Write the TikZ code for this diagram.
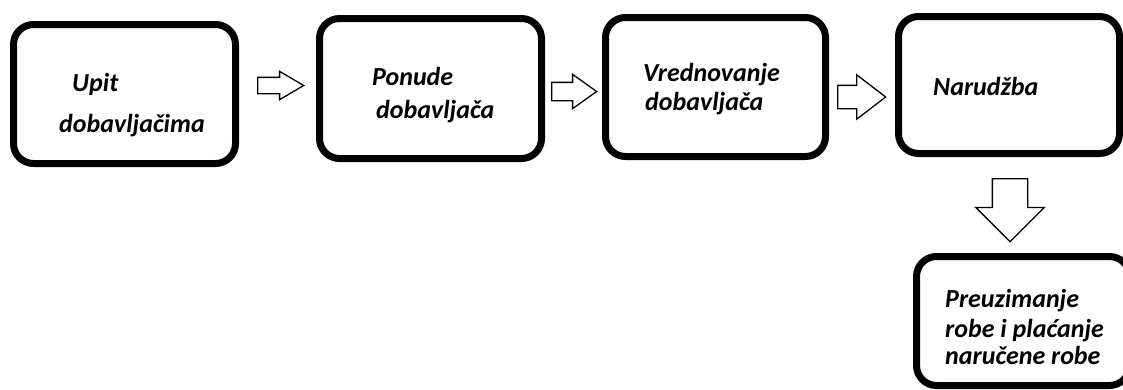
\documentclass[tikz,border=0pt]{standalone}
\usepackage{fontspec}
\setmainfont{Carlito}
\usetikzlibrary{shapes.arrows}

\tikzset{
  stage/.style={draw, line width=7pt, rounded corners=20pt, inner sep=0pt},
  txt/.style={anchor=base west, inner sep=0pt, font=\fontsize{26}{30}\selectfont\bfseries\itshape},
  blockarrow/.style={single arrow, draw, line width=1.3pt, inner xsep=0pt,
    single arrow head indent=0pt, anchor=tail}
}

\begin{document}
\begin{tikzpicture}[x=1pt, y=-1pt]
      \useasboundingbox (0, 0) rectangle (1123, 389);

      \node[stage, minimum width=222, minimum height=139] (upit) at (124.5, 94) {};
      \node[stage, minimum width=222, minimum height=140] (ponude) at (430.5, 88.5) {};
      \node[stage, minimum width=220, minimum height=139] (vrednovanje) at (715.5, 87) {};
      \node[stage, minimum width=221, minimum height=137] (narudzba) at (1009, 85) {};
      \node[stage, minimum width=213, minimum height=129] (preuzimanje) at (1023, 321) {};

      \node[txt] (upit1) at (72, 91) {Upit};
      \node[txt] (upit2) at (59, 132) {dobavljačima};
      \node[txt] (ponude1) at (372, 85) {Ponude};
      \node[txt] (ponude2) at (376, 118) {dobavljača};
      \node[txt] (vred1) at (643, 81) {Vrednovanje};
      \node[txt] (vred2) at (645, 110) {dobavljača};
      \node[txt] (narud1) at (933, 95) {Narudžba};
      \node[txt] (preuz1) at (945, 307) {Preuzimanje};
      \node[txt] (preuz2) at (945, 337) {robe i plaćanje};
      \node[txt] (preuz3) at (945, 364) {naručene robe};

      % inner ysep = half the shaft
      \node[blockarrow, minimum height=46, inner ysep=7.5, single arrow head extend=6,
        single arrow tip angle=61] (a1) at (257, 85.5) {};
      \node[blockarrow, minimum height=45, inner ysep=8.5, single arrow head extend=8,
        single arrow tip angle=71] (a2) at (551, 91.5) {};
      \node[blockarrow, minimum height=48, inner ysep=11, single arrow head extend=10.5,
        single arrow tip angle=75] (a3) at (837, 97) {};
      \node[blockarrow, minimum height=63, inner xsep=17, inner ysep=0pt, single arrow head extend=16.5,
        single arrow tip angle=90, shape border rotate=270] (a4) at (1010, 178) {};
    \end{tikzpicture}
\end{document}
